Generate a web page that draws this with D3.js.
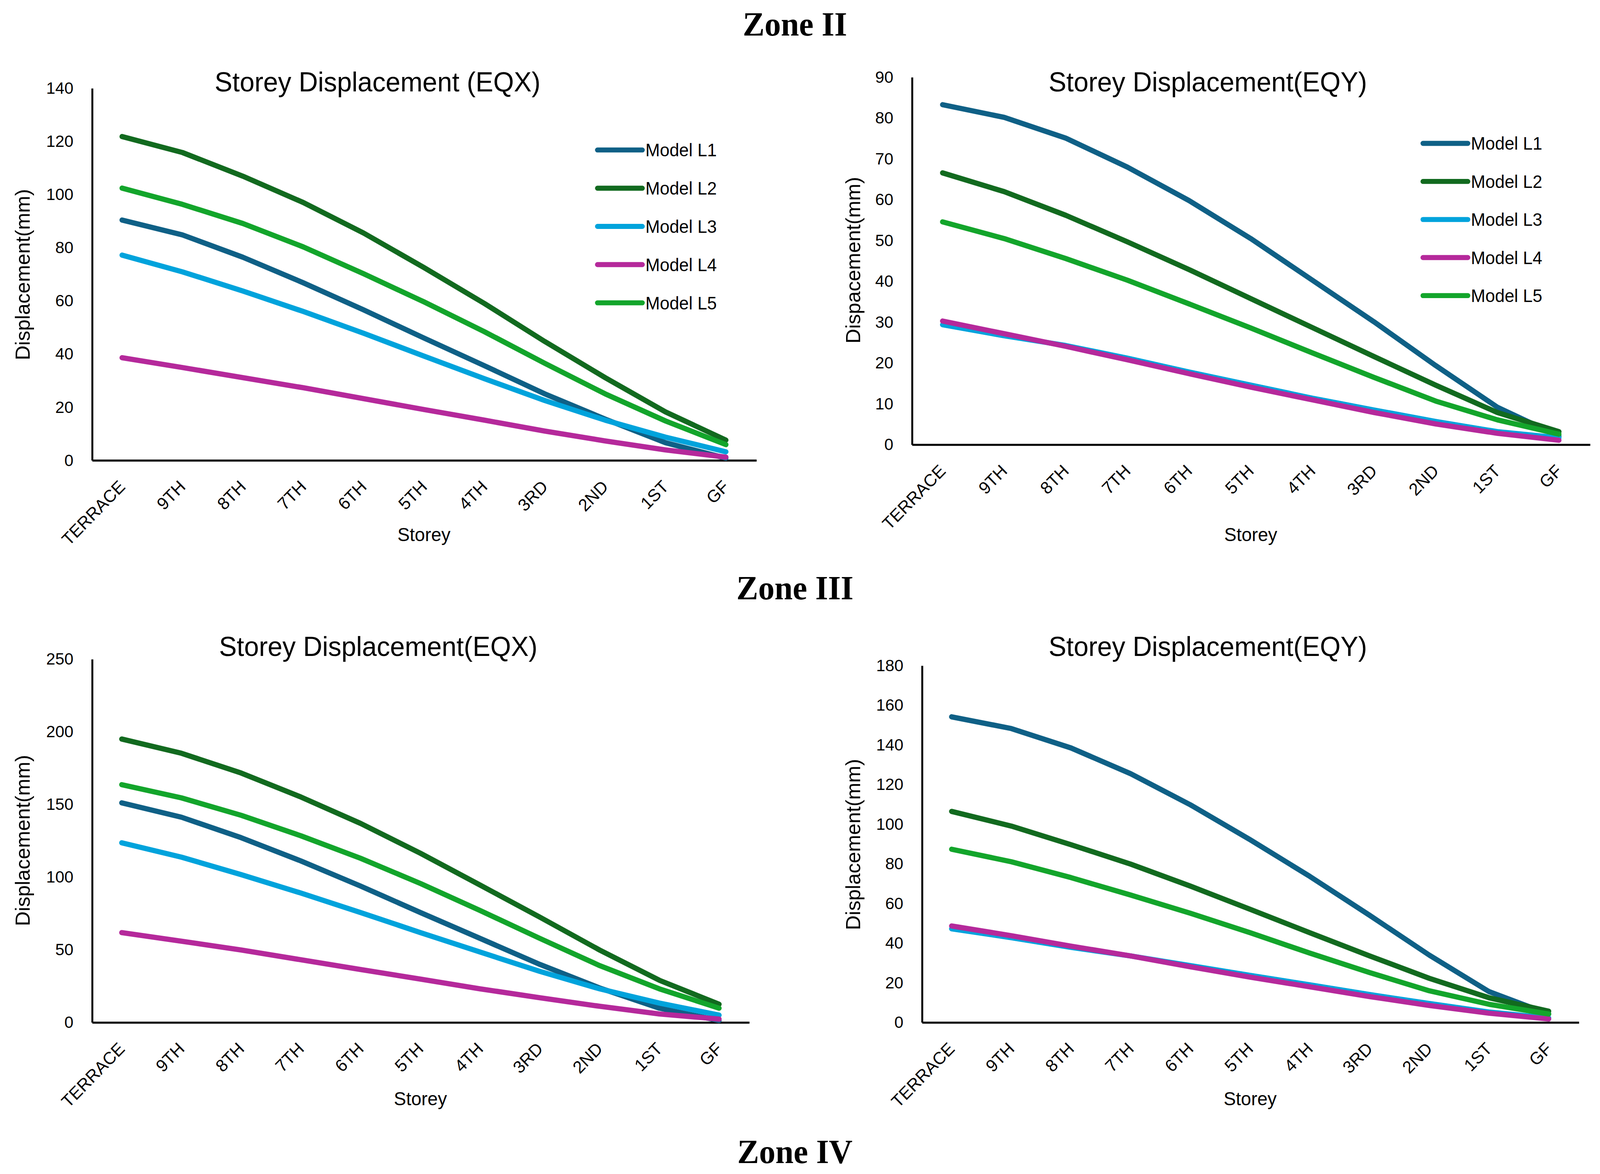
<!DOCTYPE html>
<html>
<head>
<meta charset="utf-8">
<script src="https://cdn.jsdelivr.net/npm/d3@7"></script>
<style>
  html, body { margin: 0; padding: 0; width: 100%; height: 100%; overflow: hidden; background: #fff; }
  svg { display: block; width: 100vw; height: 100vh; }
</style>
</head>
<body>
<svg id="canvas"></svg>
<script>
// storeys along the x axis
let storeys = ['TERRACE', '9TH', '8TH', '7TH', '6TH', '5TH', '4TH', '3RD', '2ND', '1ST', 'GF']
let models = ['Model L1', 'Model L2', 'Model L3', 'Model L4', 'Model L5']

// Zone II, EQX (mm)
let z2xL1 = [90.3, 84.7, 76.3, 66.7, 56.5, 45.9, 35.5, 24.9, 15.4, 6.5, 0.7]
let z2xL2 = [121.7, 115.7, 106.8, 96.9, 85.4, 72.4, 58.9, 44.6, 31.0, 18.1, 7.5]
let z2xL3 = [77.1, 70.8, 63.6, 55.9, 47.7, 39.1, 30.6, 22.4, 15.0, 8.6, 3.1]
let z2xL4 = [38.5, 34.8, 31.0, 27.2, 23.1, 19.0, 15.0, 10.9, 7.2, 3.8, 1.1]
let z2xL5 = [102.3, 96.2, 89.0, 80.2, 70.1, 59.5, 48.3, 36.4, 24.9, 14.7, 5.8]

// Zone II, EQY (mm)
let z2yL1 = [83.2, 80.1, 75.0, 67.9, 59.7, 50.4, 40.2, 30.0, 19.3, 9.1, 2.0]
let z2yL2 = [66.5, 61.9, 56.1, 49.6, 42.8, 35.7, 28.6, 21.5, 14.5, 7.8, 3.1]
let z2yL3 = [29.3, 26.6, 24.2, 21.1, 17.7, 14.5, 11.3, 8.4, 5.6, 3.1, 1.6]
let z2yL4 = [30.2, 27.1, 24.0, 20.7, 17.3, 14.0, 10.9, 7.8, 5.0, 2.7, 1.0]
let z2yL5 = [54.5, 50.4, 45.5, 40.2, 34.4, 28.5, 22.4, 16.4, 10.6, 6.0, 2.5]

// Zone III, EQX (mm)
let z3xL1 = [150.9, 141.0, 126.9, 110.9, 93.6, 75.4, 57.6, 39.7, 23.5, 9.6, 1.1]
let z3xL2 = [194.8, 185.0, 171.4, 154.9, 136.7, 116.2, 94.3, 72.2, 49.6, 28.8, 12.3]
let z3xL3 = [123.4, 113.5, 101.5, 88.8, 75.4, 61.6, 48.2, 34.9, 22.9, 13.1, 4.8]
let z3xL4 = [61.6, 55.7, 49.6, 42.9, 36.2, 29.6, 22.9, 16.8, 10.9, 5.6, 2.1]
let z3xL5 = [163.4, 154.3, 142.3, 128.2, 112.7, 95.4, 76.8, 57.6, 38.9, 22.9, 9.6]

// Zone III, EQY (mm)
let z3yL1 = [154.0, 148.1, 138.3, 125.3, 109.6, 92.0, 73.5, 53.9, 33.8, 15.4, 4.1]
let z3yL2 = [106.3, 98.9, 89.5, 79.7, 68.6, 56.9, 45.1, 33.4, 22.1, 12.3, 5.5]
let z3yL3 = [47.1, 42.6, 37.7, 33.4, 28.5, 23.6, 18.8, 13.9, 9.4, 5.1, 2.1]
let z3yL4 = [48.5, 43.6, 38.3, 33.4, 27.9, 22.7, 17.8, 12.9, 8.4, 4.5, 1.6]
let z3yL5 = [87.2, 80.9, 72.9, 64.1, 54.9, 45.1, 34.8, 25.0, 15.8, 9.0, 4.1]

// y axis ticks of each panel
let ticksA = [0, 20, 40, 60, 80, 100, 120, 140]
let ticksB = [0, 10, 20, 30, 40, 50, 60, 70, 80, 90]
let ticksC = [0, 50, 100, 150, 200, 250]
let ticksD = [0, 20, 40, 60, 80, 100, 120, 140, 160, 180]

let zones = ['Zone II', 'Zone III', 'Zone IV']

let colors = ['#0f6086', '#126a1f', '#00a3dc', '#b5299b', '#13a52b']
let font = "'Liberation Sans', Arial, sans-serif"

// drawing is done in a 1568 wide space, stretched to fill the page
let W = 1568, H = 1121.6
let svg = d3.select('#canvas')
    .attr('viewBox', `0 0 ${W} ${H}`)
    .attr('preserveAspectRatio', 'none')

svg.append('rect').attr('width', W).attr('height', H).attr('fill', '#fff')

let zoneY = [33.9, 572.7, 1111]
svg.selectAll('.zone')
    .data(zones)
    .enter()
    .append('text')
    .attr('class', 'zone')
    .attr('x', 779)
    .attr('y', (d, i) => zoneY[i])
    .attr('text-anchor', 'middle')
    .attr('font-family', "'Liberation Serif', 'Times New Roman', serif")
    .attr('font-weight', 'bold')
    .attr('font-size', 32)
    .text(d => d)

let drawChart = (c) => {
    let g = svg.append('g')

    let x = d3.scalePoint().domain(storeys).range([c.x0, c.x1]).padding(0.5)
    let y = d3.scaleLinear().domain([0, d3.max(c.ticks)]).range([c.yBot, c.yTop])

    // y axis
    let ya = g.append('g')
        .attr('transform', `translate(${c.x0},0)`)
        .call(d3.axisLeft(y).tickValues(c.ticks).tickSize(0).tickSizeOuter(0).tickPadding(18))
    ya.select('.domain').attr('stroke', '#000').attr('stroke-width', 1.9)
    ya.selectAll('text').attr('font-family', font).attr('font-size', 16).attr('fill', '#000')

    // x axis
    let xa = g.append('g')
        .attr('transform', `translate(0,${c.yBot})`)
        .call(d3.axisBottom(x).tickSize(0).tickSizeOuter(0))
    xa.select('.domain').attr('stroke', '#000').attr('stroke-width', 1.9)
    xa.selectAll('text')
        .attr('font-family', font)
        .attr('font-size', 16.6)
        .attr('fill', '#000')
        .attr('text-anchor', 'end')
        .attr('y', 0)
        .attr('dy', 0)
        .attr('transform', 'translate(3.5,26.5) rotate(-45)')

    // lines
    let line = d3.line()
        .x((d, i) => x(storeys[i]))
        .y(d => y(d))

    g.selectAll('.series')
        .data(c.series)
        .enter()
        .append('path')
        .attr('class', 'series')
        .attr('d', d => line(d))
        .attr('fill', 'none')
        .attr('stroke', (d, i) => colors[i])
        .attr('stroke-width', 5)
        .attr('stroke-linejoin', 'round')
        .attr('stroke-linecap', 'round')

    // titles
    g.append('text')
        .attr('x', c.titleX)
        .attr('y', c.titleY)
        .attr('text-anchor', 'middle')
        .attr('font-family', font)
        .attr('font-size', 26)
        .text(c.title)

    g.append('text')
        .attr('transform', `translate(${c.yLabX},${c.yLabY}) rotate(-90)`)
        .attr('text-anchor', 'middle')
        .attr('font-family', font)
        .attr('font-size', 19.5)
        .text(c.yLabel)

    g.append('text')
        .attr('x', (c.x0 + c.x1) / 2)
        .attr('y', c.storeyY)
        .attr('text-anchor', 'middle')
        .attr('font-family', font)
        .attr('font-size', 18)
        .text('Storey')

    // legend
    if (c.legend) {
        let lg = g.append('g').attr('transform', `translate(${c.legend.x},${c.legend.y})`)
        let item = lg.selectAll('g')
            .data(models)
            .enter()
            .append('g')
            .attr('transform', (d, i) => `translate(0,${i * c.legend.step})`)
        item.append('line')
            .attr('x1', 0).attr('x2', 44)
            .attr('stroke', (d, i) => colors[i])
            .attr('stroke-width', 4.8)
            .attr('stroke-linecap', 'round')
        item.append('text')
            .attr('x', 47)
            .attr('dy', '0.36em')
            .attr('font-family', font)
            .attr('font-size', 17)
            .text(d => d)
    }
}

drawChart({
    title: 'Storey Displacement (EQX)', yLabel: 'Displacement(mm)',
    series: [z2xL1, z2xL2, z2xL3, z2xL4, z2xL5], ticks: ticksA,
    x0: 90, x1: 741, yTop: 84, yBot: 439.5,
    titleX: 370, titleY: 87.5, yLabX: 29, yLabY: 262.4, storeyY: 517,
    legend: { x: 585.5, y: 143.3, step: 36.5 }
})

drawChart({
    title: 'Storey Displacement(EQY)', yLabel: 'Dispacement(mm)',
    series: [z2yL1, z2yL2, z2yL3, z2yL4, z2yL5], ticks: ticksB,
    x0: 893.5, x1: 1558, yTop: 73.5, yBot: 424.5,
    titleX: 1183.7, titleY: 87.5, yLabX: 842.8, yLabY: 248.6, storeyY: 517,
    legend: { x: 1394.5, y: 137, step: 36.35 }
})

drawChart({
    title: 'Storey Displacement(EQX)', yLabel: 'Displacement(mm)',
    series: [z3xL1, z3xL2, z3xL3, z3xL4, z3xL5], ticks: ticksC,
    x0: 90, x1: 734, yTop: 629.4, yBot: 976.5,
    titleX: 370.7, titleY: 626.5, yLabX: 29, yLabY: 803, storeyY: 1056
})

drawChart({
    title: 'Storey Displacement(EQY)', yLabel: 'Displacement(mm)',
    series: [z3yL1, z3yL2, z3yL3, z3yL4, z3yL5], ticks: ticksD,
    x0: 903.3, x1: 1547, yTop: 635.6, yBot: 976.5,
    titleX: 1183.7, titleY: 626.5, yLabX: 842.8, yLabY: 806.8, storeyY: 1056
})
</script>
</body>
</html>
